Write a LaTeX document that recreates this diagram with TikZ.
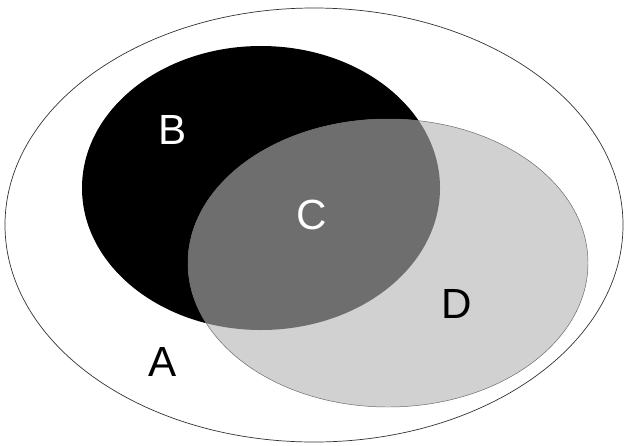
\documentclass[tikz,border=0pt]{standalone}
\usepackage{fontspec}
\setmainfont{Liberation Sans}
\tikzset{
    lbl/.style={font=\fontsize{36}{40}\selectfont, inner sep=0pt}
}
\begin{document}
\begin{tikzpicture}[x=0.03cm, y=-0.03cm]
    \useasboundingbox (0,0) rectangle (627,445);
    % universe A
    \draw[line width=0.6pt, black!80] (314,225) ellipse (309 and 217);
    % set B
    \fill[black] (261,188) ellipse (179 and 142);
    % set D
    \fill[black!18] (388,263) ellipse (200 and 144);
    % overlap C
    \begin{scope}
        \clip (261,188) ellipse (179 and 142);
        \fill[black!57] (388,263) ellipse (200 and 144);
    \end{scope}
    \draw[line width=0.4pt, black!60] (388,263) ellipse (200 and 144);
    % labels
    \node[lbl, white] (b) at (173,130) {B};
    \node[lbl, white] (c) at (312,215) {C};
    \node[lbl] (d) at (457,304) {D};
    \node[lbl] (a) at (163,362) {A};
\end{tikzpicture}
\end{document}
